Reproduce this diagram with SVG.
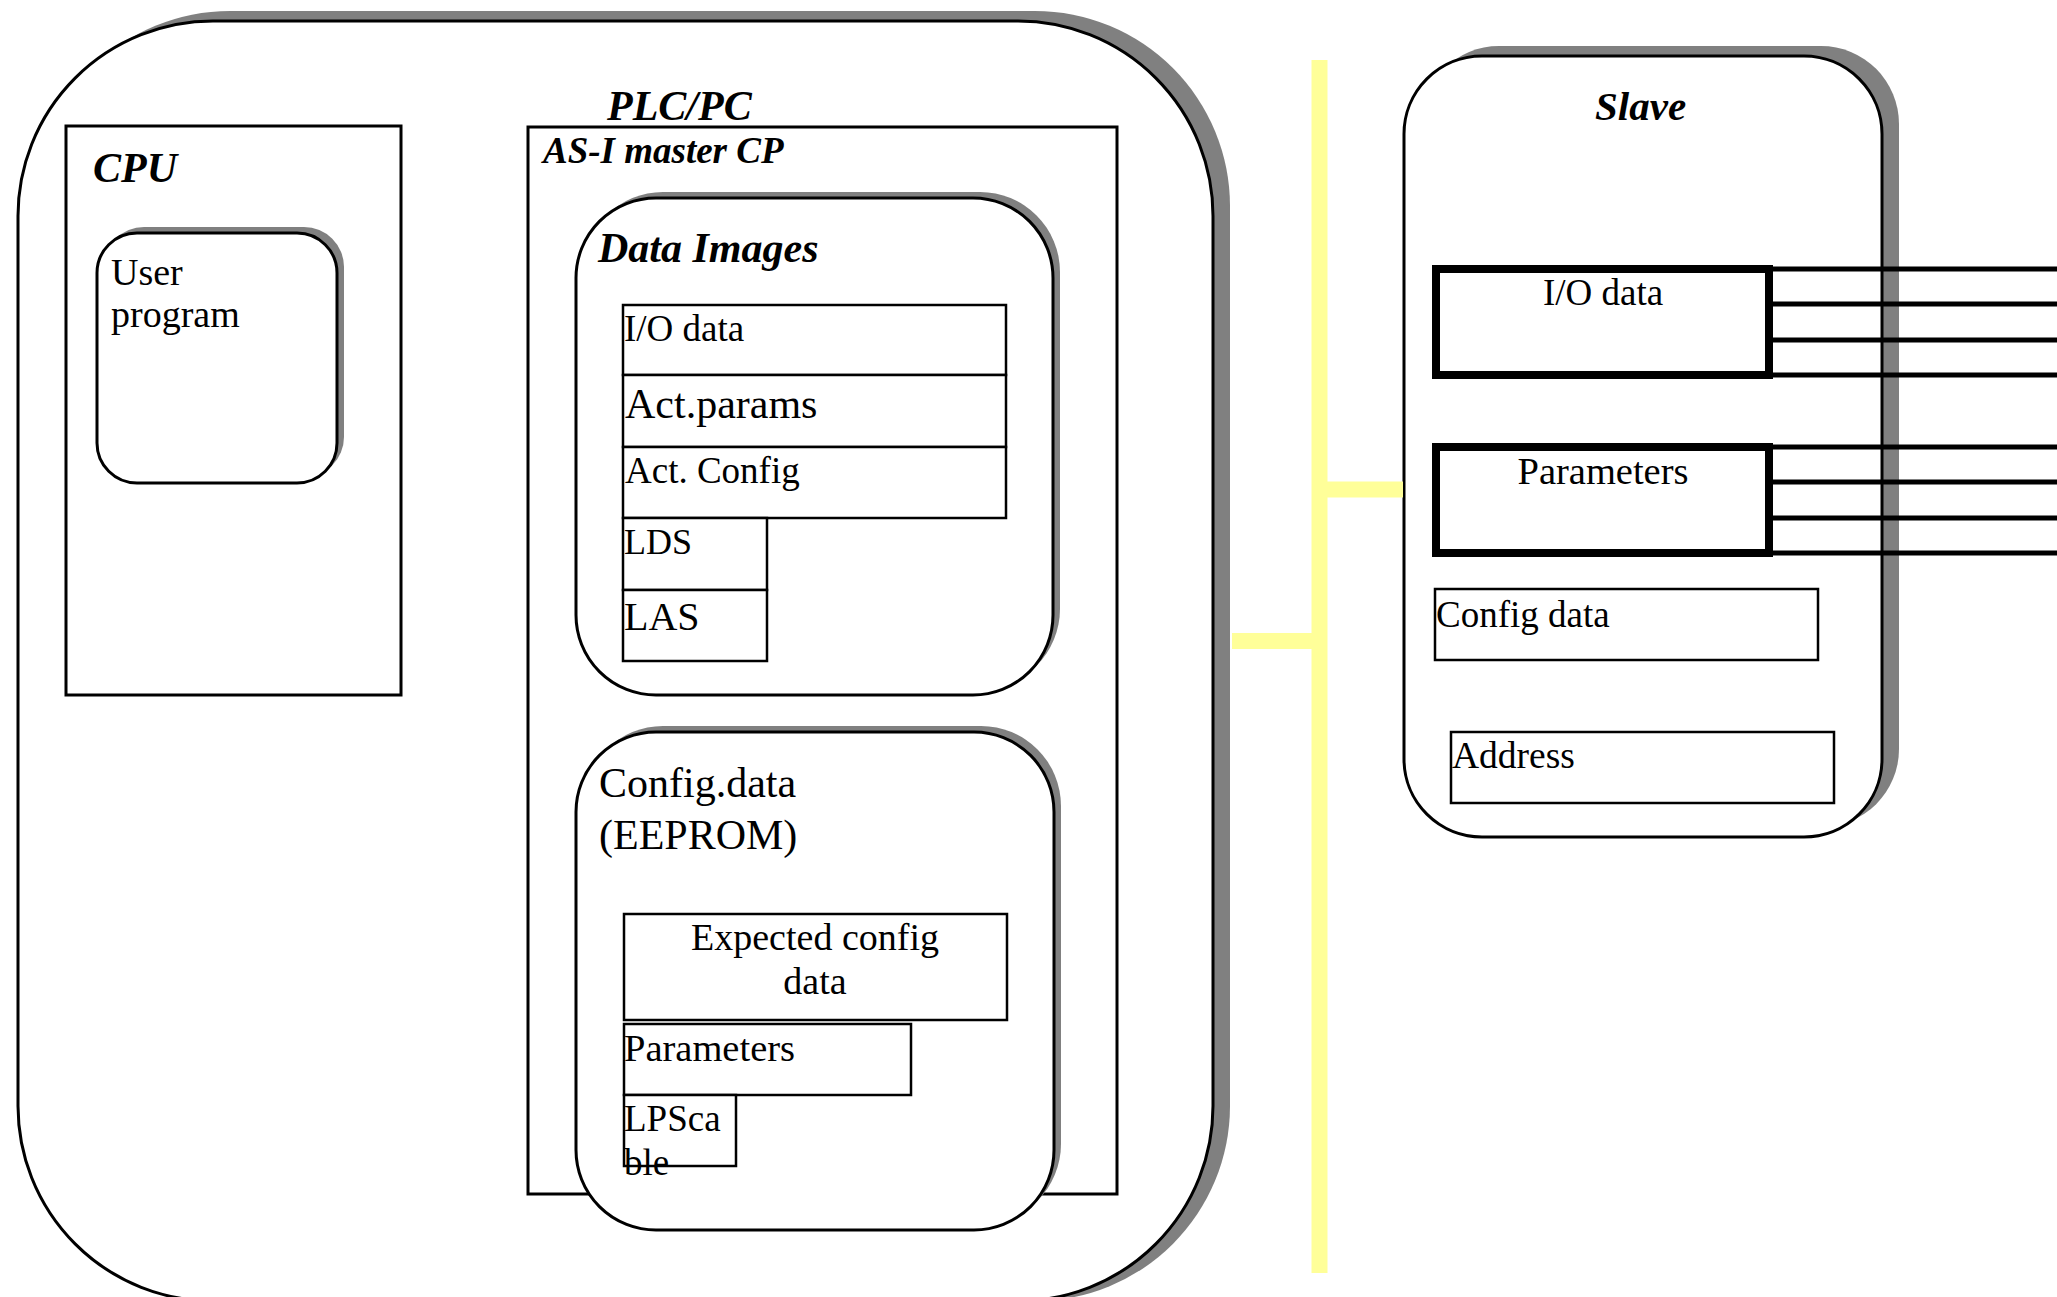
<svg xmlns="http://www.w3.org/2000/svg" width="2057" height="1297" viewBox="0 0 2057 1297">
  <style>
    .box { fill: #ffffff; stroke: #000000; stroke-width: 3; }
    .thin { fill: #ffffff; stroke: #000000; stroke-width: 2.5; }
    .shadow { fill: #808080; stroke: none; }
    .thick { fill: #ffffff; stroke: #000000; stroke-width: 8; }
    .title { font-family: "Liberation Serif", "Times New Roman", serif; font-weight: bold; font-style: italic; fill: #000; }
    .label { font-family: "Liberation Serif", "Times New Roman", serif; fill: #000; }
    .mid { text-anchor: middle; }
    .bus { stroke: #ffff99; stroke-width: 16; fill: none; }
    .wire { stroke: #000000; stroke-width: 5; fill: none; }
  </style>

  <rect width="2057" height="1297" fill="#ffffff"/>

  <!-- PLC/PC enclosure -->
  <g id="plc">
    <rect class="shadow" x="35" y="11" width="1195" height="1290" rx="195" ry="195"/>
    <rect class="box" x="18" y="21" width="1195" height="1280" rx="195" ry="195"/>
    <text class="title" x="607" y="120" font-size="42">PLC/PC</text>
  </g>

  <!-- CPU -->
  <g id="cpu">
    <rect class="box" x="66" y="126" width="335" height="569"/>
    <text class="title" x="93" y="182" font-size="42">CPU</text>
  </g>

  <g id="user-program">
    <rect class="shadow" x="104" y="227" width="240" height="250" rx="40" ry="40"/>
    <rect class="box" x="97" y="233" width="240" height="250" rx="40" ry="40"/>
    <text class="label" x="111" y="285" font-size="38">User</text>
    <text class="label" x="111" y="327" font-size="38">program</text>
  </g>

  <!-- AS-I master CP -->
  <g id="master-cp">
    <rect class="box" x="528" y="127" width="589" height="1067"/>
    <text class="title" x="543" y="163" font-size="37">AS-I master CP</text>
  </g>

  <g id="data-images">
    <rect class="shadow" x="583" y="192" width="477" height="497" rx="80" ry="80"/>
    <rect class="box" x="576" y="198" width="477" height="497" rx="80" ry="80"/>
    <text class="title" x="598" y="262" font-size="42">Data Images</text>
  </g>

  <g id="img-io-data">
    <rect class="thin" x="623" y="305" width="383" height="70"/>
    <text class="label" x="624" y="341" font-size="37">I/O data</text>
  </g>
  <g id="img-act-params">
    <rect class="thin" x="623" y="375" width="383" height="72"/>
    <text class="label" x="625" y="418" font-size="42">Act.params</text>
  </g>
  <g id="img-act-config">
    <rect class="thin" x="623" y="447" width="383" height="71"/>
    <text class="label" x="625" y="483" font-size="37">Act. Config</text>
  </g>
  <g id="img-lds">
    <rect class="thin" x="623" y="518" width="144" height="72"/>
    <text class="label" x="624" y="554" font-size="36">LDS</text>
  </g>
  <g id="img-las">
    <rect class="thin" x="623" y="590" width="144" height="71"/>
    <text class="label" x="624" y="630" font-size="40">LAS</text>
  </g>

  <g id="config-eeprom">
    <rect class="shadow" x="583" y="726" width="478" height="498" rx="80" ry="80"/>
    <rect class="box" x="576" y="732" width="478" height="498" rx="80" ry="80"/>
    <text class="label" x="599" y="797" font-size="42">Config.data</text>
    <text class="label" x="599" y="849" font-size="42">(EEPROM)</text>
  </g>

  <g id="expected-config">
    <rect class="thin" x="624" y="914" width="383" height="106"/>
    <text class="label mid" x="815" y="950" font-size="38">Expected config</text>
    <text class="label mid" x="815" y="994" font-size="38">data</text>
  </g>
  <g id="eeprom-parameters">
    <rect class="thin" x="624" y="1024" width="287" height="71"/>
    <text class="label" x="624" y="1061" font-size="38.5">Parameters</text>
  </g>
  <g id="lps">
    <rect class="thin" x="624" y="1095" width="112" height="71"/>
    <text class="label" x="624" y="1131" font-size="37">LPSca</text>
    <text class="label" x="624" y="1175" font-size="37">ble</text>
  </g>

  <!-- Slave -->
  <g id="slave">
    <rect class="shadow" x="1421" y="46" width="478" height="781" rx="78" ry="78"/>
    <rect class="box" x="1404" y="56" width="478" height="781" rx="78" ry="78"/>
    <text class="title" x="1595" y="120" font-size="41">Slave</text>
  </g>

  <!-- bus and slave I/O lines -->
  <g id="connectors">
    <line class="bus" x1="1319.5" y1="60" x2="1319.5" y2="1273"/>
    <line class="bus" x1="1232" y1="641" x2="1312" y2="641"/>
    <line class="bus" x1="1327" y1="489.5" x2="1403" y2="489.5"/>

    <line class="wire" x1="1770" y1="269" x2="2057" y2="269"/>
    <line class="wire" x1="1770" y1="304" x2="2057" y2="304"/>
    <line class="wire" x1="1770" y1="340" x2="2057" y2="340"/>
    <line class="wire" x1="1770" y1="375" x2="2057" y2="375"/>

    <line class="wire" x1="1770" y1="447" x2="2057" y2="447"/>
    <line class="wire" x1="1770" y1="482" x2="2057" y2="482"/>
    <line class="wire" x1="1770" y1="518" x2="2057" y2="518"/>
    <line class="wire" x1="1770" y1="553" x2="2057" y2="553"/>
  </g>

  <g id="slave-io-data">
    <rect class="thick" x="1436" y="269" width="333" height="106"/>
    <text class="label mid" x="1603" y="305" font-size="37">I/O data</text>
  </g>
  <g id="slave-parameters">
    <rect class="thick" x="1436" y="447" width="333" height="106"/>
    <text class="label mid" x="1603" y="484" font-size="38.5">Parameters</text>
  </g>
  <g id="slave-config-data">
    <rect class="thin" x="1435" y="589" width="383" height="71"/>
    <text class="label" x="1436" y="627" font-size="37">Config data</text>
  </g>
  <g id="slave-address">
    <rect class="thin" x="1451" y="732" width="383" height="71"/>
    <text class="label" x="1452" y="768" font-size="37.5">Address</text>
  </g>
</svg>
